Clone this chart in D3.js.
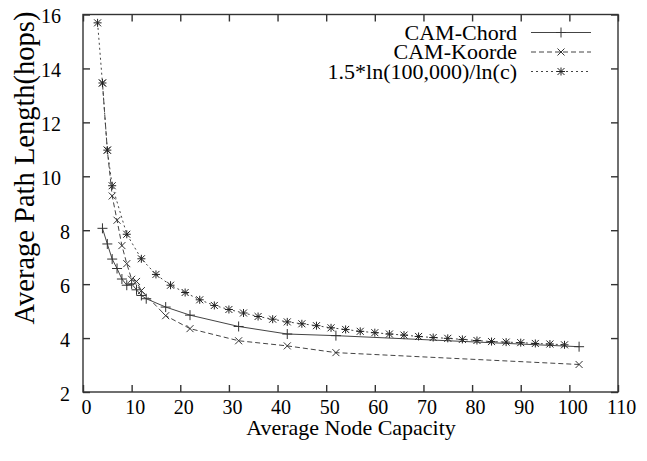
<!DOCTYPE html>
<html lang="en">
<head>
<meta charset="utf-8">
<title>Average Path Length vs Node Capacity</title>
<script src="https://cdn.jsdelivr.net/npm/d3@7"></script>
<style>
body { margin: 0; background: #fff; }
text { font-family: "Liberation Serif", "Times New Roman", serif; fill: #000; }
.frame { fill: none; stroke: #333; stroke-width: 1.4px; }
.axis path { display: none; }
.axis line { stroke: #333; stroke-width: 1.4px; }
.axis text { font-size: 20px; font-family: "Liberation Serif", serif; }
.series { fill: none; stroke: #444; stroke-width: 1px; }
.mark { stroke: #333; stroke-width: 1px; fill: none; }
</style>
</head>
<body>
<script>
// data
var chordX  = [4, 5, 6, 7, 8, 9, 10, 11, 12, 13, 17, 22, 32, 42, 52, 102];
var chordY  = [8.07, 7.49, 6.93, 6.58, 6.19, 5.96, 6.01, 5.79, 5.58, 5.46, 5.15, 4.85, 4.43, 4.15, 4.09, 3.68];

var koordeX = [4, 5, 6, 7, 8, 9, 10, 11, 12, 17, 22, 32, 42, 52, 102];
var koordeY = [13.46, 10.97, 9.27, 8.37, 7.43, 6.76, 6.18, 6.1, 5.76, 4.83, 4.35, 3.9, 3.71, 3.46, 3.02];

var boundX  = [3, 4, 5, 6, 9, 12, 15, 18, 21, 24, 27, 30, 33, 36, 39, 42, 45, 48, 51, 54, 57,
               60, 63, 66, 69, 72, 75, 78, 81, 84, 87, 90, 93, 96, 99];
var boundY  = [15.69, 13.46, 10.97, 9.65, 7.85, 6.94, 6.36, 5.96, 5.69, 5.42, 5.21, 5.06, 4.93,
               4.80, 4.70, 4.60, 4.53, 4.46, 4.38, 4.32, 4.25, 4.20, 4.15, 4.11, 4.06, 4.02, 3.99,
               3.95, 3.91, 3.87, 3.85, 3.83, 3.80, 3.78, 3.75];

var seriesNames = ["CAM-Chord", "CAM-Koorde", "1.5*ln(100,000)/ln(c)"];
var xTicks = [0, 10, 20, 30, 40, 50, 60, 70, 80, 90, 100, 110];
var yTicks = [2, 4, 6, 8, 10, 12, 14, 16];

{
    var w = 647, h = 461;
    var pl = 83, pr = 618, pt = 14.5, pb = 392;

    var svg = d3.select("body").append("svg")
        .attr("width", w)
        .attr("height", h);

    var x = d3.scaleLinear().domain([0, 110]).range([pl, pr]);
    var y = d3.scaleLinear().domain([2, 16]).range([pb, pt]);

    // axes, ticks point inwards on all four sides
    var gx = svg.append("g").attr("class", "axis")
        .attr("transform", "translate(0," + pb + ")")
        .call(d3.axisBottom(x).tickValues(xTicks).tickSizeInner(-7).tickSizeOuter(0).tickPadding(7.5));
    gx.selectAll("text").attr("dx", 3);

    var gy = svg.append("g").attr("class", "axis")
        .attr("transform", "translate(" + pl + ",0)")
        .call(d3.axisLeft(y).tickValues(yTicks).tickSizeInner(-7).tickSizeOuter(0));
    gy.selectAll("text")
        .attr("x", function(d){ return -4 - 9 * String(d).length; })
        .attr("dy", "0.4em");

    svg.append("g").attr("class", "axis")
        .attr("transform", "translate(0," + pt + ")")
        .call(d3.axisTop(x).tickValues(xTicks).tickSizeInner(-7).tickSizeOuter(0).tickFormat(""));
    svg.append("g").attr("class", "axis")
        .attr("transform", "translate(" + pr + ",0)")
        .call(d3.axisRight(y).tickValues(yTicks).tickSizeInner(-7).tickSizeOuter(0).tickFormat(""));

    svg.append("rect").attr("class", "frame")
        .attr("x", pl).attr("y", pt)
        .attr("width", pr - pl).attr("height", pb - pt);

    // axis titles
    svg.append("text")
        .attr("x", 351).attr("y", 435)
        .attr("text-anchor", "middle")
        .style("font-size", "22px")
        .text("Average Node Capacity");

    svg.append("text")
        .attr("transform", "translate(34,168) rotate(-90)")
        .attr("text-anchor", "middle")
        .style("font-size", "28.5px")
        .text("Average Path Length(hops)");

    // marker drawing
    function plus(g, cx, cy){
        g.append("path").attr("class", "mark")
         .attr("d", "M" + (cx - 5) + "," + cy + "H" + (cx + 5) + "M" + cx + "," + (cy - 5) + "V" + (cy + 5));
    }
    function cross(g, cx, cy){
        var s = 3.5;
        g.append("path").attr("class", "mark")
         .attr("d", "M" + (cx - s) + "," + (cy - s) + "L" + (cx + s) + "," + (cy + s) +
                    "M" + (cx - s) + "," + (cy + s) + "L" + (cx + s) + "," + (cy - s));
    }
    function star(g, cx, cy){
        var s = 3.5;
        g.append("path").attr("class", "mark").style("stroke", "#222")
         .attr("d", "M" + (cx - 4) + "," + cy + "H" + (cx + 4) + "M" + cx + "," + (cy - 4) + "V" + (cy + 4) +
                    "M" + (cx - s) + "," + (cy - s) + "L" + (cx + s) + "," + (cy + s) +
                    "M" + (cx - s) + "," + (cy + s) + "L" + (cx + s) + "," + (cy - s));
    }

    var series = [
        {xs: chordX,  ys: chordY,  dash: null,  mark: plus},
        {xs: koordeX, ys: koordeY, dash: "5,3", mark: cross},
        {xs: boundX,  ys: boundY,  dash: "2,3", mark: star}
    ];

    var line = d3.line()
        .x(function(d){ return x(d[0]); })
        .y(function(d){ return y(d[1]); });

    series.forEach(function(s){
        var pts = d3.zip(s.xs, s.ys);
        svg.append("path").attr("class", "series")
           .attr("d", line(pts))
           .style("stroke-dasharray", s.dash);
        var g = svg.append("g");
        pts.forEach(function(p){ s.mark(g, x(p[0]), y(p[1])); });
    });

    // legend, top right inside the frame
    var legend = svg.append("g");
    series.forEach(function(s, i){
        var ly = 32.5 + i * 19.5;
        legend.append("text")
            .attr("x", 517).attr("y", ly + 7)
            .attr("text-anchor", "end")
            .style("font-size", "22px")
            .text(seriesNames[i]);
        legend.append("line").attr("class", "series")
            .attr("x1", 531).attr("x2", 591)
            .attr("y1", ly).attr("y2", ly)
            .style("stroke-dasharray", s.dash);
        s.mark(legend, 561, ly);
    });
}
</script>
</body>
</html>
